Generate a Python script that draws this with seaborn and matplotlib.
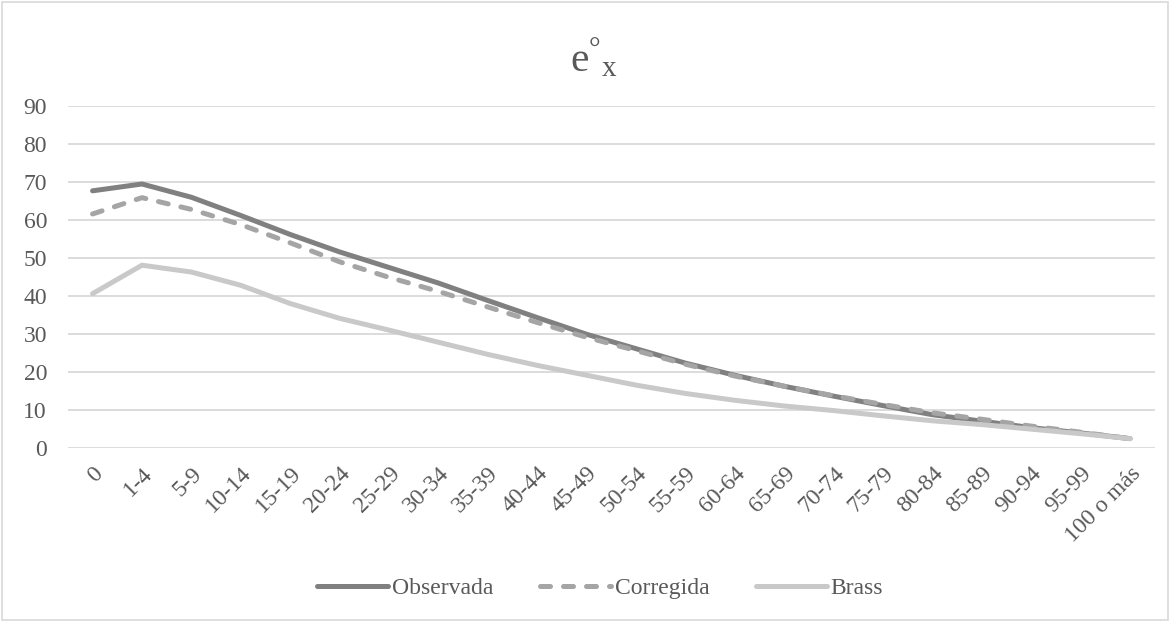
import matplotlib
matplotlib.use("Agg")
import matplotlib.pyplot as plt
import seaborn as sns
import pandas as pd
from matplotlib.patches import Rectangle
from matplotlib.lines import Line2D

edades = ["0", "1-4", "5-9", "10-14", "15-19", "20-24", "25-29", "30-34", "35-39",
          "40-44", "45-49", "50-54", "55-59", "60-64", "65-69", "70-74", "75-79",
          "80-84", "85-89", "90-94", "95-99", "100 o más"]
observada = [67.7, 69.5, 66.0, 61.2, 56.2, 51.6, 47.5, 43.4, 38.8, 34.3, 29.9, 26.1,
             22.3, 19.1, 16.2, 13.6, 11.1, 8.7, 7.0, 5.3, 3.9, 2.4]
corregida = [61.6, 65.9, 62.8, 58.8, 54.0, 49.0, 44.9, 41.2, 37.1, 33.0, 29.1, 25.6,
             22.0, 18.9, 16.2, 13.7, 11.4, 9.2, 7.5, 5.7, 4.1, 2.4]
brass = [40.6, 48.1, 46.3, 42.8, 38.0, 34.1, 31.0, 27.8, 24.6, 21.7, 19.1, 16.5,
         14.3, 12.5, 11.0, 9.8, 8.4, 7.1, 6.1, 4.9, 3.7, 2.4]
series = ["Observada", "Corregida", "Brass"]
yticks = [0, 10, 20, 30, 40, 50, 60, 70, 80, 90]

df = pd.DataFrame({"edad": edades * 3,
                   "valor": observada + corregida + brass,
                   "serie": [s for s in series for _ in edades]})

sns.set_theme(style="white")
plt.rcParams["font.family"] = ["Liberation Serif", "DejaVu Serif"]
plt.rcParams["mathtext.fontset"] = "custom"
plt.rcParams["mathtext.rm"] = "Liberation Serif"
plt.rcParams["mathtext.it"] = "Liberation Serif"

txt = "#595959"
colors = {"Observada": "#808080", "Corregida": "#A5A5A5", "Brass": "#C9C9C9"}
dashes = {"Observada": "", "Corregida": (2.0, 2.6), "Brass": ""}
fs = 17

fig = plt.figure(figsize=(11.7, 6.21), dpi=100)
ax = fig.add_axes([0.058, 0.279, 0.929, 0.55])

sns.lineplot(data=df, x="edad", y="valor", hue="serie", style="serie",
             palette=colors, dashes=dashes, sort=False, linewidth=3.6,
             legend=False, ax=ax)
for ln in ax.get_lines():
    ln.set_dash_capstyle("round")
    ln.set_solid_capstyle("round")
    ln.set_solid_joinstyle("round")

ax.set_xlim(-0.5, len(edades) - 0.5)
ax.set_ylim(0, 90)
ax.set_yticks(yticks)
ax.yaxis.grid(True, color="#D9D9D9", linewidth=1.3)
ax.set_axisbelow(True)
for s in ax.spines.values():
    s.set_visible(False)
ax.set_xlabel("")
ax.set_ylabel("")
ax.set_xticks(range(len(edades)))
ax.set_xticklabels(edades, rotation=45, ha="right", rotation_mode="anchor")
ax.tick_params(axis="both", length=0, labelsize=fs, colors=txt)
ax.tick_params(axis="x", pad=11)
ax.tick_params(axis="y", pad=15)

fig.text(0.508, 0.905, r"$\mathrm{e}^{\mathrm{°}}{}_{\mathrm{x}}$", ha="center",
         va="center", fontsize=30, color=txt)

handles = [Line2D([0], [0], color=colors[s], linewidth=3.6,
                  linestyle=(0, dashes[s]) if dashes[s] else "-",
                  dash_capstyle="round", solid_capstyle="round") for s in series]
fig.legend(handles, series, loc="center", bbox_to_anchor=(0.513, 0.053), ncol=3,
           frameon=False, fontsize=fs, labelcolor=txt, handlelength=3.0,
           handletextpad=0.15, columnspacing=2.0)

fig.add_artist(Rectangle((0.002, 0.002), 0.996, 0.995, transform=fig.transFigure,
                         fill=False, edgecolor="#D9D9D9", linewidth=1.2))

fig.savefig("out.png", dpi=100, facecolor="white")
